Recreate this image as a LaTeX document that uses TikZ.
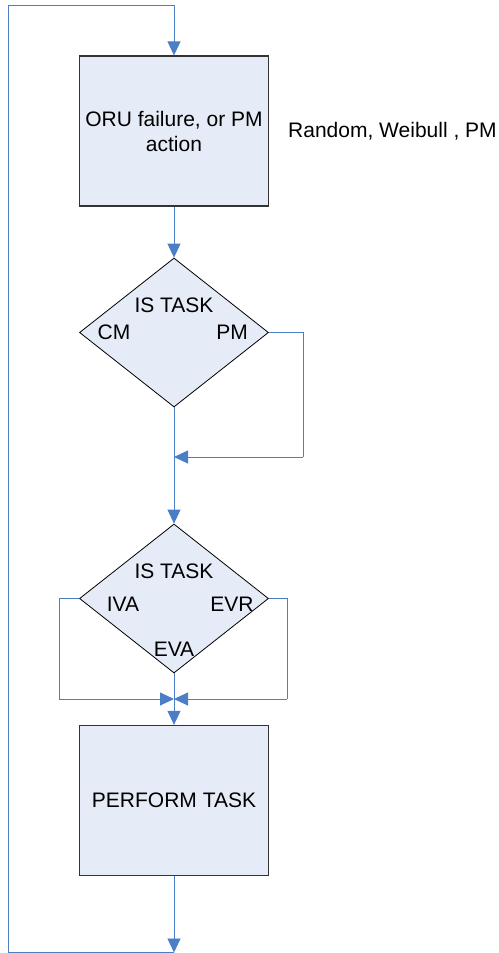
\documentclass[tikz,border=0pt]{standalone}
\usepackage{fontspec}
\setmainfont{Liberation Sans}
\usetikzlibrary{arrows.meta,shapes.geometric}
\definecolor{lineblue}{HTML}{4A7EC6}
\definecolor{boxfill}{HTML}{E6ECF7}
\definecolor{boxedge}{HTML}{333333}
\tikzset{
  txt/.style={font=\fontsize{21}{25}\selectfont, inner sep=0pt},
  procbox/.style={draw=boxedge, line width=1.3pt, fill=boxfill, minimum width=189pt, minimum height=150pt, inner sep=0pt, align=center, font=\fontsize{21}{25}\selectfont},
  decide/.style={draw=black, line width=0.8pt, fill=boxfill, diamond, minimum width=189pt, minimum height=149pt, inner sep=0pt},
  conn/.style={draw=lineblue, line width=0.9pt},
  arr/.style={conn, -{Triangle[length=14pt,width=13pt]}, shorten >=0pt}
}
\begin{document}
\begin{tikzpicture}[x=1pt,y=-1pt]
\useasboundingbox (0,0) rectangle (498,953);
% nodes
\node[procbox] (b1) at (174,131) {ORU failure, or PM\\action};
\node[txt, anchor=west] (rnd) at (288,131) {Random, Weibull , PM};
\node[decide] (d1) at (174,332.5) {};
\node[txt] (d1t) at (174,305) {IS TASK};
\node[txt] (d1cm) at (114,332) {CM};
\node[txt] (d1pm) at (232,332) {PM};
\node[decide] (d2) at (174,598.5) {};
\node[txt] (d2t) at (174,571) {IS TASK};
\node[txt] (d2iva) at (123,604) {IVA};
\node[txt] (d2evr) at (232,604) {EVR};
\node[txt] (d2eva) at (174,649) {EVA};
\node[procbox] (b2) at (174,800.5) {PERFORM TASK};
% coordinates
\coordinate (j1) at (174,457);
\coordinate (j1r) at (303,457);
\coordinate (j2) at (174,699);
\coordinate (j2l) at (59,699);
\coordinate (j2r) at (287,699);
\coordinate (endc) at (174,952.5);
\coordinate (bl) at (8,952.5);
\coordinate (tl) at (8,5);
\coordinate (tr) at (174,5);
% connectors
\draw[conn] (endc) -- (bl) -- (tl) -- (tr);
\draw[arr] (tr) -- (b1.north);
\draw[arr] (b1.south) -- (d1.north);
\draw[conn] (d1.east) -| (j1r);
\draw[arr] (j1r) -- (j1);
\draw[arr] (d1.south) -- (d2.north);
\draw[conn] (d2.west) -| (j2l);
\draw[arr] (j2l) -- (j2);
\draw[conn] (d2.east) -| (j2r);
\draw[arr] (j2r) -- (j2);
\draw[arr] (d2.south) -- (b2.north);
\draw[arr] (b2.south) -- (endc);
\end{tikzpicture}
\end{document}
